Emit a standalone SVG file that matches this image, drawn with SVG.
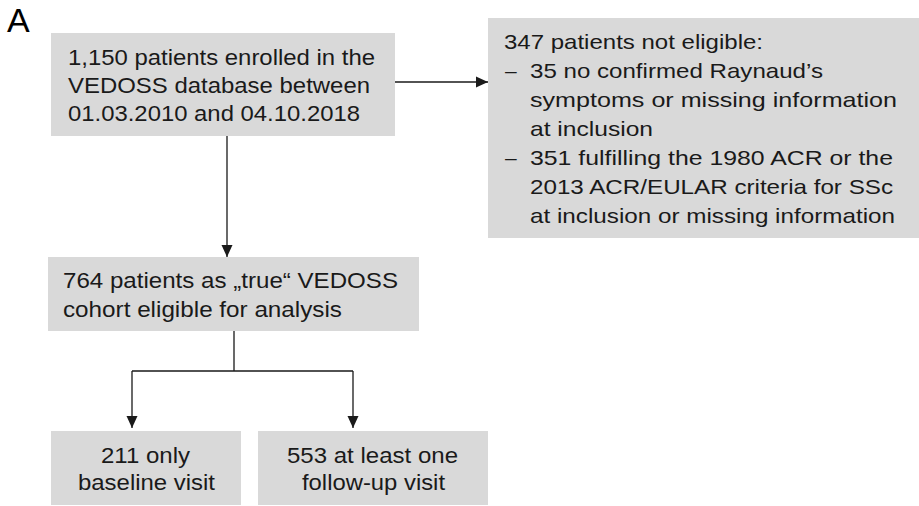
<svg xmlns="http://www.w3.org/2000/svg" width="919" height="506" viewBox="0 0 919 506">
<defs>
<style>
.box{fill:#d9d9d9;}
.t{font-family:"Liberation Sans",Arial,sans-serif;font-size:22px;fill:#1a1a1a;}
.t2{font-family:"Liberation Sans",Arial,sans-serif;font-size:21px;fill:#1a1a1a;}
.c{fill:none;stroke:#1a1a1a;stroke-width:1.3;}
</style>
<marker id="ah" viewBox="0 0 12 12" refX="12" refY="6" markerWidth="12" markerHeight="12" markerUnits="userSpaceOnUse" orient="auto">
<path d="M0,0.5 L12,6 L0,11.5 Z" fill="#1a1a1a"/>
</marker>
</defs>
<rect width="919" height="506" fill="#fff"/>
<text x="7" y="32" style="font-family:'Liberation Sans',Arial,sans-serif;font-size:34px;fill:#000">A</text>
<g id="connectors">
<path class="c" d="M395,82 H488" marker-end="url(#ah)"/>
<path class="c" d="M227,136 V257" marker-end="url(#ah)"/>
<path class="c" d="M234,331 V371 M132,371 H353"/>
<path class="c" d="M132,371 V428" marker-end="url(#ah)"/>
<path class="c" d="M353,371 V428" marker-end="url(#ah)"/>
</g>
<g id="n1">
<rect class="box" x="51" y="33" width="344" height="103"/>
<text class="t" x="68" y="65" textLength="307" lengthAdjust="spacingAndGlyphs">1,150 patients enrolled in the</text>
<text class="t" x="68" y="93" textLength="302" lengthAdjust="spacingAndGlyphs">VEDOSS database between</text>
<text class="t" x="68" y="121" textLength="292" lengthAdjust="spacingAndGlyphs">01.03.2010 and 04.10.2018</text>
</g>
<g id="n2">
<rect class="box" x="488" y="18" width="431" height="220"/>
<text class="t2" x="504" y="49" textLength="259" lengthAdjust="spacingAndGlyphs">347 patients not eligible:</text>
<text class="t2" x="505" y="78">–</text>
<text class="t2" x="530" y="78" textLength="293" lengthAdjust="spacingAndGlyphs">35 no confirmed Raynaud’s</text>
<text class="t2" x="530" y="107" textLength="367" lengthAdjust="spacingAndGlyphs">symptoms   or missing information</text>
<text class="t2" x="530" y="136" textLength="123" lengthAdjust="spacingAndGlyphs">at inclusion</text>
<text class="t2" x="505" y="165">–</text>
<text class="t2" x="530" y="165" textLength="363" lengthAdjust="spacingAndGlyphs">351 fulfilling the 1980 ACR or the</text>
<text class="t2" x="530" y="194" textLength="363" lengthAdjust="spacingAndGlyphs">2013 ACR/EULAR criteria for SSc</text>
<text class="t2" x="530" y="223" textLength="365" lengthAdjust="spacingAndGlyphs">at inclusion or missing information</text>
</g>
<g id="n3">
<rect class="box" x="48" y="257" width="371" height="74"/>
<text class="t" x="63" y="288" textLength="335" lengthAdjust="spacingAndGlyphs">764 patients as „true“ VEDOSS</text>
<text class="t" x="63" y="317" textLength="279" lengthAdjust="spacingAndGlyphs">cohort eligible for analysis</text>
</g>
<g id="n4">
<rect class="box" x="51" y="431" width="190" height="74"/>
<text class="t" x="101" y="463" textLength="89" lengthAdjust="spacingAndGlyphs">211 only</text>
<text class="t" x="78" y="490" textLength="137" lengthAdjust="spacingAndGlyphs">baseline visit</text>
</g>
<g id="n5">
<rect class="box" x="258" y="431" width="230" height="74"/>
<text class="t" x="287" y="463" textLength="171" lengthAdjust="spacingAndGlyphs">553 at least one</text>
<text class="t" x="302" y="490" textLength="143" lengthAdjust="spacingAndGlyphs">follow-up visit</text>
</g>
</svg>
